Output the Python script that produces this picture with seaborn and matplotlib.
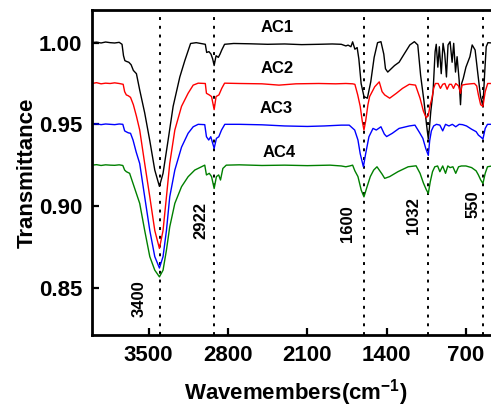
import matplotlib
matplotlib.use("Agg")
import matplotlib.pyplot as plt
import seaborn as sns
import pandas as pd

# ---- spectra: wavenumber (cm-1) and transmittance for each sample ----
ac1_wn = [4000, 3960, 3920, 3880, 3840, 3800, 3760, 3735, 3722, 3710, 3695, 3675, 3655, 3635,
          3608, 3579, 3535, 3490, 3446, 3405, 3373, 3329, 3284, 3225, 3181, 3130, 3080, 3000,
          2988, 2968, 2950, 2935, 2922, 2905, 2885, 2870, 2855, 2830, 2750, 2600, 2450, 2300,
          2150, 2000, 1880, 1800, 1760, 1740, 1715, 1700, 1680, 1660, 1645, 1625, 1600, 1570,
          1540, 1510, 1480, 1450, 1425, 1410, 1390, 1360, 1330, 1290, 1250, 1195, 1155, 1125,
          1100, 1070, 1048, 1032, 1022, 1010, 990, 972, 962, 948, 935, 918, 902, 887, 872, 858,
          840, 822, 808, 792, 778, 760, 748, 738, 724, 700, 665, 645, 619, 595, 571, 550, 535,
          521, 506, 470]
ac1_t = [1.0000, 1.0003, 0.9998, 1.0004, 1.0000, 0.9998, 1.0002, 0.9990, 0.9920, 0.9890, 0.9885,
         0.9880, 0.9865, 0.9830, 0.9810, 0.9710, 0.9570, 0.9400, 0.9220, 0.9120, 0.9200, 0.9400,
         0.9610, 0.9790, 0.9890, 0.9995, 1.0000, 0.9990, 0.9940, 0.9945, 0.9930, 0.9900, 0.9860,
         0.9920, 0.9910, 0.9930, 0.9955, 0.9990, 0.9995, 0.9993, 0.9990, 0.9992, 0.9988, 0.9990,
         0.9992, 0.9990, 0.9980, 0.9985, 0.9975, 1.0005, 0.9960, 0.9970, 0.9900, 0.9750, 0.9670,
         0.9660, 0.9760, 0.9910, 1.0000, 1.0006, 0.9930, 0.9840, 0.9820, 0.9840, 0.9860, 0.9880,
         0.9925, 0.9986, 1.0006, 0.9986, 0.9800, 0.9640, 0.9500, 0.9410, 0.9480, 0.9580, 0.9700,
         0.9945, 0.9990, 0.9850, 0.9975, 0.9810, 0.9996, 0.9930, 0.9790, 0.9986, 1.0006, 0.9880,
         0.9996, 0.9820, 0.9914, 0.9770, 0.9620, 0.9750, 0.9780, 0.9850, 0.9914, 0.9986, 0.9955,
         0.9810, 0.9670, 0.9610, 0.9810, 0.9975, 1.0000, 0.9998]

ac2_wn = [4000, 3960, 3920, 3880, 3840, 3800, 3760, 3725, 3712, 3697, 3680, 3660, 3635, 3608,
          3579, 3535, 3490, 3446, 3405, 3373, 3343, 3314, 3269, 3210, 3152, 3107, 3063, 3000,
          2990, 2965, 2945, 2922, 2905, 2880, 2855, 2830, 2700, 2500, 2350, 2200, 2000, 1850,
          1760, 1700, 1680, 1655, 1633, 1615, 1600, 1585, 1565, 1550, 1505, 1465, 1440, 1417,
          1373, 1314, 1260, 1200, 1145, 1105, 1075, 1050, 1032, 1015, 1000, 985, 970, 945, 925,
          905, 886, 866, 846, 828, 810, 790, 765, 748, 735, 700, 660, 625, 605, 590, 570, 550,
          530, 508, 470]
ac2_t = [0.9750, 0.9755, 0.9748, 0.9752, 0.9750, 0.9754, 0.9750, 0.9745, 0.9700, 0.9680, 0.9675,
         0.9665, 0.9620, 0.9550, 0.9465, 0.9260, 0.9056, 0.8850, 0.8740, 0.8850, 0.9056, 0.9260,
         0.9465, 0.9610, 0.9690, 0.9740, 0.9752, 0.9750, 0.9690, 0.9680, 0.9670, 0.9590, 0.9670,
         0.9680, 0.9720, 0.9752, 0.9750, 0.9748, 0.9740, 0.9748, 0.9750, 0.9748, 0.9750, 0.9748,
         0.9745, 0.9680, 0.9610, 0.9520, 0.9465, 0.9520, 0.9620, 0.9670, 0.9730, 0.9760, 0.9700,
         0.9680, 0.9660, 0.9690, 0.9720, 0.9745, 0.9740, 0.9660, 0.9580, 0.9540, 0.9555, 0.9620,
         0.9660, 0.9720, 0.9750, 0.9750, 0.9720, 0.9745, 0.9750, 0.9715, 0.9745, 0.9745, 0.9720,
         0.9750, 0.9735, 0.9690, 0.9740, 0.9745, 0.9748, 0.9750, 0.9735, 0.9680, 0.9620, 0.9610,
         0.9700, 0.9750, 0.9750]

ac3_wn = [4000, 3960, 3920, 3880, 3840, 3800, 3760, 3728, 3712, 3700, 3680, 3660, 3638, 3610,
          3579, 3535, 3490, 3446, 3405, 3373, 3343, 3314, 3269, 3210, 3152, 3107, 3063, 3005,
          2990, 2970, 2952, 2922, 2902, 2881, 2857, 2828, 2700, 2500, 2300, 2100, 1950, 1800,
          1730, 1682, 1653, 1633, 1605, 1585, 1556, 1520, 1491, 1450, 1420, 1400, 1350, 1290,
          1200, 1150, 1110, 1080, 1055, 1032, 1020, 1005, 985, 960, 930, 905, 880, 850, 820,
          790, 760, 730, 695, 650, 610, 590, 565, 550, 530, 510, 470]
ac3_t = [0.9500, 0.9503, 0.9498, 0.9502, 0.9500, 0.9498, 0.9502, 0.9500, 0.9460, 0.9455, 0.9448,
         0.9445, 0.9404, 0.9330, 0.9260, 0.9056, 0.8850, 0.8690, 0.8620, 0.8690, 0.8850, 0.9056,
         0.9220, 0.9360, 0.9445, 0.9485, 0.9500, 0.9498, 0.9424, 0.9404, 0.9424, 0.9353, 0.9414,
         0.9424, 0.9465, 0.9500, 0.9500, 0.9497, 0.9490, 0.9487, 0.9490, 0.9495, 0.9495, 0.9465,
         0.9404, 0.9320, 0.9240, 0.9320, 0.9424, 0.9475, 0.9465, 0.9485, 0.9440, 0.9425, 0.9445,
         0.9475, 0.9490, 0.9495, 0.9450, 0.9414, 0.9353, 0.9310, 0.9400, 0.9460, 0.9490, 0.9500,
         0.9495, 0.9460, 0.9500, 0.9490, 0.9500, 0.9485, 0.9500, 0.9498, 0.9490, 0.9470, 0.9455,
         0.9434, 0.9420, 0.9410, 0.9475, 0.9500, 0.9500]

ac4_wn = [4000, 3960, 3920, 3880, 3840, 3800, 3760, 3728, 3712, 3697, 3668, 3638, 3610, 3579,
          3535, 3490, 3446, 3405, 3373, 3343, 3314, 3269, 3210, 3152, 3093, 3034, 3005, 2990,
          2965, 2945, 2922, 2902, 2882, 2866, 2845, 2815, 2700, 2500, 2300, 2100, 1900, 1800,
          1760, 1726, 1700, 1680, 1653, 1624, 1600, 1573, 1544, 1514, 1485, 1465, 1440, 1417,
          1373, 1300, 1210, 1140, 1105, 1075, 1050, 1032, 1015, 995, 975, 950, 930, 905, 880,
          860, 840, 815, 790, 765, 740, 700, 650, 610, 590, 570, 550, 530, 510, 470]
ac4_t = [0.9250, 0.9253, 0.9248, 0.9252, 0.9250, 0.9249, 0.9252, 0.9248, 0.9220, 0.9210, 0.9200,
         0.9138, 0.9080, 0.9016, 0.8850, 0.8690, 0.8607, 0.8566, 0.8607, 0.8730, 0.8872, 0.9016,
         0.9118, 0.9179, 0.9220, 0.9240, 0.9250, 0.9190, 0.9200, 0.9180, 0.9107, 0.9180, 0.9190,
         0.9159, 0.9230, 0.9250, 0.9252, 0.9248, 0.9250, 0.9247, 0.9250, 0.9245, 0.9240, 0.9245,
         0.9250, 0.9215, 0.9180, 0.9097, 0.9056, 0.9117, 0.9180, 0.9220, 0.9240, 0.9220, 0.9195,
         0.9169, 0.9180, 0.9210, 0.9240, 0.9246, 0.9200, 0.9140, 0.9100, 0.9077, 0.9148, 0.9210,
         0.9240, 0.9245, 0.9210, 0.9245, 0.9200, 0.9245, 0.9235, 0.9240, 0.9200, 0.9240, 0.9245,
         0.9245, 0.9235, 0.9215, 0.9190, 0.9160, 0.9138, 0.9200, 0.9240, 0.9245]

sample_names = ["AC1", "AC2", "AC3", "AC4"]
sample_colors = ["#000000", "#ff0000", "#0000ff", "#008000"]
# curve labels: (wavenumber, transmittance) of the text centre
label_wn = [2362, 2362, 2374, 2345]
label_t = [1.0093, 0.9839, 0.9594, 0.9327]

# assigned bands marked with dotted lines
band_wn = [3400, 2922, 1600, 1032, 550]
band_text = ["3400", "2922", "1600", "1032", "550"]
band_text_wn = [3582, 3037, 1747, 1166, 635]
band_text_t = [0.8435, 0.8913, 0.8895, 0.8940, 0.9011]

x_ticks = [3500, 2800, 2100, 1400, 700]
y_ticks = [0.85, 0.90, 0.95, 1.00]

frames = []
for name, wn, t in zip(sample_names, [ac1_wn, ac2_wn, ac3_wn, ac4_wn], [ac1_t, ac2_t, ac3_t, ac4_t]):
    frames.append(pd.DataFrame({"wavenumber": wn, "transmittance": t, "sample": name}))
spectra = pd.concat(frames, ignore_index=True)

sns.set_theme(style="ticks")
plt.rcParams["font.family"] = ["Liberation Sans", "DejaVu Sans"]
plt.rcParams["font.weight"] = "bold"
plt.rcParams["text.color"] = "black"
plt.rcParams["axes.labelcolor"] = "black"
plt.rcParams["xtick.color"] = "black"
plt.rcParams["ytick.color"] = "black"
plt.rcParams["mathtext.fontset"] = "custom"
plt.rcParams["mathtext.rm"] = "Liberation Sans:bold"
plt.rcParams["mathtext.bf"] = "Liberation Sans:bold"
plt.rcParams["mathtext.default"] = "bf"

fig = plt.figure(figsize=(4.91, 4.08), dpi=100)
ax = fig.add_axes([92 / 491, 73 / 408, 400 / 491, 325 / 408])

sns.lineplot(data=spectra, x="wavenumber", y="transmittance", hue="sample",
             palette=dict(zip(sample_names, sample_colors)), estimator=None,
             linewidth=1.0, legend=False, ax=ax)

for wn in band_wn:
    ax.axvline(wn, color="black", linewidth=1.4, linestyle=(0, (1.5, 3.0)), zorder=1)

for name, x, y in zip(sample_names, label_wn, label_t):
    ax.text(x, y, name, ha="center", va="center", fontsize=12, fontweight="bold", color="black")

for txt, x, y in zip(band_text, band_text_wn, band_text_t):
    ax.text(x, y, txt, rotation=90, ha="center", va="center", fontsize=12,
            fontweight="bold", color="black")

ax.set_xlim(4000, 470)
ax.set_ylim(0.821, 1.020)
ax.set_xticks(x_ticks)
ax.set_yticks(y_ticks)
ax.set_yticklabels([f"{v:.2f}" for v in y_ticks])
ax.tick_params(axis="both", direction="in", length=5, width=1.6, labelsize=16, pad=7,
               top=False, right=False, colors="black")
for side in ["left", "bottom", "top", "right"]:
    ax.spines[side].set_linewidth(2.0)
    ax.spines[side].set_color("black")

ax.set_xlabel("Wavemembers(cm$^{-1}$)", fontsize=16, fontweight="bold")
ax.set_ylabel("Transmittance", fontsize=16, fontweight="bold")
ax.xaxis.set_label_coords(0.51, -0.128)
ax.yaxis.set_label_coords(-0.135, 0.5)

fig.savefig("out.png", dpi=100)
